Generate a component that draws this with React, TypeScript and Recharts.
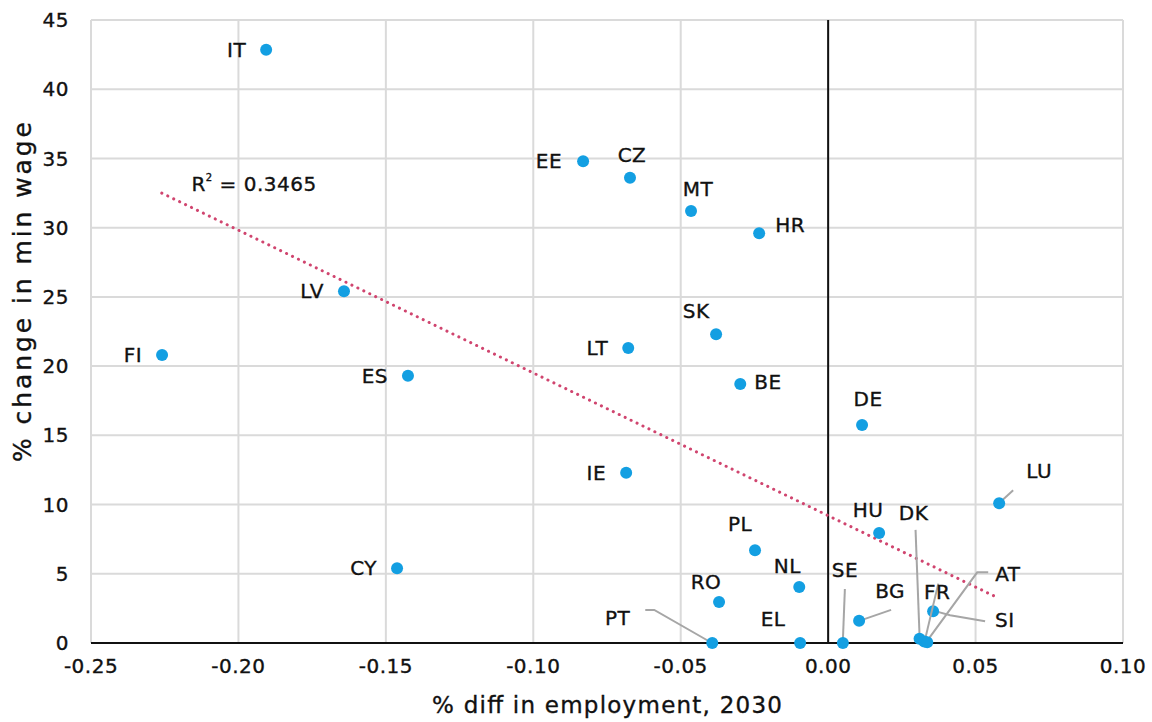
import React from "react";
import { ScatterChart, Scatter, XAxis, YAxis, CartesianGrid, ReferenceLine, Label } from "recharts";

const countries = ["IT", "EE", "CZ", "MT", "HR", "LV", "SK", "LT", "FI", "ES", "BE", "DE", "IE", "LU", "HU", "PL", "CY", "NL", "RO", "BG", "SI", "PT", "EL", "SE", "DK", "FR", "AT"];
const employmentDiff = [-0.1906, -0.0831, -0.0672, -0.0465, -0.0234, -0.1642, -0.038, -0.0678, -0.2259, -0.1425, -0.0298, 0.0115, -0.0685, 0.058, 0.0173, -0.0248, -0.1462, -0.0098, -0.037, 0.0105, 0.0356, -0.0393, -0.0095, 0.005, 0.031, 0.0326, 0.0336];
const minWageChange = [42.85, 34.8, 33.6, 31.2, 29.6, 25.4, 22.3, 21.3, 20.8, 19.3, 18.7, 15.75, 12.3, 10.1, 7.95, 6.7, 5.4, 4.05, 2.96, 1.6, 2.3, 0, 0, 0, 0.3, 0.1, 0.05];

const xTicks = [-0.25, -0.2, -0.15, -0.1, -0.05, 0, 0.05, 0.1];
const yTicks = [0, 5, 10, 15, 20, 25, 30, 35, 40, 45];

// linear fit endpoints
const trendX = [-0.226, 0.0577];
const trendY = [32.5, 3.25];
const rSquared = "0.3465";

const xTitle = "% diff in employment, 2030";
const yTitle = "% change in min wage";

const FONT = "'DejaVu Sans', sans-serif";
const BLUE = "#139fe2";
const INK = "#111";
// thin outline to give the regular face a medium weight
const heavy = { stroke: INK, strokeWidth: 0.35 };

// label offsets (px from the dot): anchor, dx, dy, optional leader polyline
type Placement = { anchor: "start" | "middle" | "end"; dx: number; dy: number; leader?: number[][] };
const placement: Record<string, Placement> = {
  IT: { anchor: "end", dx: -20, dy: 0 },
  EE: { anchor: "end", dx: -21, dy: 0 },
  CZ: { anchor: "middle", dx: 2, dy: -23 },
  MT: { anchor: "middle", dx: 7, dy: -22 },
  HR: { anchor: "start", dx: 16, dy: -8 },
  LV: { anchor: "end", dx: -20, dy: 0 },
  SK: { anchor: "middle", dx: -20, dy: -23 },
  LT: { anchor: "end", dx: -20, dy: 0 },
  FI: { anchor: "end", dx: -20, dy: 0 },
  ES: { anchor: "end", dx: -20, dy: 0 },
  BE: { anchor: "start", dx: 14, dy: -2 },
  DE: { anchor: "middle", dx: 6, dy: -26 },
  IE: { anchor: "end", dx: -20, dy: 0 },
  LU: { anchor: "middle", dx: 40, dy: -32, leader: [[14, -13], [2, -2]] },
  HU: { anchor: "middle", dx: -11, dy: -23 },
  PL: { anchor: "middle", dx: -15, dy: -26 },
  CY: { anchor: "end", dx: -20, dy: 0 },
  NL: { anchor: "middle", dx: -12, dy: -21 },
  RO: { anchor: "middle", dx: -13, dy: -20 },
  BG: { anchor: "middle", dx: 31, dy: -30, leader: [[32, -11], [3, -1]] },
  SI: { anchor: "start", dx: 62, dy: 9, leader: [[52, 10], [17, 4], [2, 0]] },
  PT: { anchor: "end", dx: -82, dy: -25, leader: [[-67, -33], [-58, -33], [-2, -1]] },
  EL: { anchor: "middle", dx: -27, dy: -24 },
  SE: { anchor: "middle", dx: 2, dy: -73, leader: [[2, -54], [0, -3]] },
  DK: { anchor: "middle", dx: -6, dy: -126, leader: [[-4, -109], [0, -3]] },
  FR: { anchor: "middle", dx: 13, dy: -50, leader: [[14, -58], [1, -3]] },
  AT: { anchor: "start", dx: 68, dy: -68, leader: [[61, -70], [50, -70], [1, -3]] },
};

const points = countries.map((c, i) => ({ name: c, x: employmentDiff[i], y: minWageChange[i] }));
const trend = trendX.map((x, i) => ({ x, y: trendY[i] }));

const CountryDot = (props: any) => {
  const { cx, cy, payload } = props;
  if (cx == null || cy == null) return null;
  const p = placement[payload.name];
  return (
    <g>
      {p.leader && (
        <polyline
          points={p.leader.map(([a, b]) => `${cx + a},${cy + b}`).join(" ")}
          fill="none"
          stroke="#a6a6a6"
          strokeWidth={2}
        />
      )}
      <circle cx={cx} cy={cy} r={6} fill={BLUE} />
      <text x={cx + p.dx} y={cy + p.dy} textAnchor={p.anchor} dominantBaseline="central" fontSize={20} letterSpacing={0.5} fontFamily={FONT} fill={INK} {...heavy}>
        {payload.name}
      </text>
    </g>
  );
};

const XTitle = ({ viewBox }: any) => (
  <text x={viewBox.x + viewBox.width / 2} y={viewBox.y + 62} textAnchor="middle" dominantBaseline="central"
    fontSize={23} fontFamily={FONT} fill={INK} {...heavy} textLength={350} lengthAdjust="spacing">
    {xTitle}
  </text>
);

const YTitle = ({ viewBox }: any) => {
  const cx = 22;
  const cy = viewBox.y + 272;
  return (
    <text x={cx} y={cy} transform={`rotate(-90 ${cx} ${cy})`} textAnchor="middle" dominantBaseline="central"
      fontSize={25} fontFamily={FONT} fill={INK} {...heavy} textLength={340} lengthAdjust="spacing">
      {yTitle}
    </text>
  );
};

const tickStyle = { fontSize: 20, fill: INK, fontFamily: FONT, letterSpacing: 0.5, ...heavy };

export default function App() {
  return (
    <div style={{ position: "absolute", left: 0, top: 0, background: "#fff" }}>
      <ScatterChart width={1152} height={722} margin={{ top: 20, right: 29, bottom: 0, left: 0 }}>
        <CartesianGrid stroke="#dadada" strokeWidth={2} />
        <XAxis
          type="number"
          dataKey="x"
          domain={[-0.25, 0.1]}
          ticks={xTicks}
          tickFormatter={(v: number) => v.toFixed(2)}
          tick={tickStyle}
          tickLine={false}
          tickSize={0}
          tickMargin={16}
          axisLine={{ stroke: INK, strokeWidth: 2 }}
          height={79}
          allowDataOverflow
        >
          <Label content={<XTitle />} />
        </XAxis>
        <YAxis
          type="number"
          dataKey="y"
          domain={[0, 45]}
          ticks={yTicks}
          tick={tickStyle}
          tickLine={false}
          tickSize={0}
          tickMargin={22}
          axisLine={false}
          width={91}
        >
          <Label content={<YTitle />} />
        </YAxis>
        <ReferenceLine x={0} stroke={INK} strokeWidth={2} />
        <Scatter
          data={trend}
          line={{ stroke: "#d0456f", strokeWidth: 3, strokeDasharray: "0.1 6.5", strokeLinecap: "round" }}
          shape={() => <g />}
          isAnimationActive={false}
        />
        <Scatter data={points} shape={<CountryDot />} isAnimationActive={false} />
        <ReferenceLine
          segment={[{ x: -0.2, y: 33 }, { x: -0.2, y: 33 }]}
          stroke="none"
          label={(props: any) => {
            const { viewBox } = props;
            return (
              <text x={viewBox.x - 47} y={viewBox.y - 2} fontSize={20} letterSpacing={0.5} fontFamily={FONT} fill={INK} {...heavy} dominantBaseline="central">
                R<tspan dy={-7} fontSize={10}>2</tspan>
                <tspan dy={7}> = {rSquared}</tspan>
              </text>
            );
          }}
        />
      </ScatterChart>
    </div>
  );
}
